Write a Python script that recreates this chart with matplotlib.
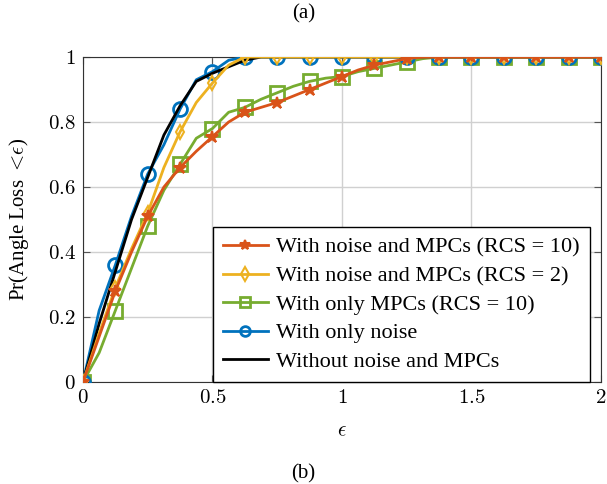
import matplotlib
matplotlib.use("Agg")
import matplotlib.pyplot as plt
import numpy as np

plt.rcParams['font.family'] = ['Liberation Serif', 'DejaVu Serif']
plt.rcParams['mathtext.fontset'] = 'cm'

# epsilon grid, step 0.0625 (markers every 0.125)
eps = np.arange(0, 2.0001, 0.0625)

noise_mpc_rcs10 = [0, 0.14, 0.28, 0.40, 0.51, 0.60, 0.66, 0.71, 0.755, 0.80, 0.83, 0.845,
                   0.86, 0.88, 0.90, 0.92, 0.94, 0.96, 0.975, 0.985, 0.995, 1.0, 1.0,
                   1.0, 1.0, 1.0, 1.0, 1.0, 1.0, 1.0, 1.0, 1.0, 1.0]
noise_mpc_rcs2 = [0, 0.15, 0.29, 0.41, 0.52, 0.66, 0.77, 0.86, 0.92, 0.975, 1.0, 1.0,
                  1.0, 1.0, 1.0, 1.0, 1.0, 1.0, 1.0, 1.0, 1.0, 1.0, 1.0,
                  1.0, 1.0, 1.0, 1.0, 1.0, 1.0, 1.0, 1.0, 1.0, 1.0]
only_mpc_rcs10 = [0, 0.09, 0.22, 0.35, 0.48, 0.59, 0.67, 0.75, 0.78, 0.83, 0.845, 0.87,
                  0.89, 0.91, 0.925, 0.935, 0.94, 0.955, 0.965, 0.975, 0.985, 0.995, 1.0,
                  1.0, 1.0, 1.0, 1.0, 1.0, 1.0, 1.0, 1.0, 1.0, 1.0]
only_noise = [0, 0.22, 0.36, 0.51, 0.64, 0.73, 0.84, 0.93, 0.955, 0.99, 1.0, 1.0,
              1.0, 1.0, 1.0, 1.0, 1.0, 1.0, 1.0, 1.0, 1.0, 1.0, 1.0,
              1.0, 1.0, 1.0, 1.0, 1.0, 1.0, 1.0, 1.0, 1.0, 1.0]
no_noise_mpc = [0, 0.18, 0.34, 0.50, 0.63, 0.76, 0.85, 0.925, 0.95, 0.97, 0.99, 1.0,
                1.0, 1.0, 1.0, 1.0, 1.0, 1.0, 1.0, 1.0, 1.0, 1.0, 1.0,
                1.0, 1.0, 1.0, 1.0, 1.0, 1.0, 1.0, 1.0, 1.0, 1.0]

labels = ["With noise and MPCs (RCS = 10)", "With noise and MPCs (RCS = 2)",
          "With only MPCs (RCS = 10)", "With only noise", "Without noise and MPCs"]
xticks = [0, 0.5, 1, 1.5, 2]
xticklabels = ['0', '0.5', '1', '1.5', '2']
yticks = [0, 0.2, 0.4, 0.6, 0.8, 1]
yticklabels = ['0', '0.2', '0.4', '0.6', '0.8', '1']

fig = plt.figure(figsize=(6.07, 4.84), dpi=100)
ax = fig.add_axes([0.1367, 0.2107, 0.8533, 0.6715])

lw = 2
ax.plot(eps, noise_mpc_rcs10, color='#D95319', lw=lw, marker='*', ms=9, mew=1.5,
        markevery=2, label=labels[0], zorder=5)
ax.plot(eps, noise_mpc_rcs2, color='#EDB120', lw=lw, marker='d', ms=7, mew=1.5,
        mfc='none', markevery=2, label=labels[1], zorder=4)
ax.plot(eps, only_mpc_rcs10, color='#77AC30', lw=lw, marker='s', ms=10, mew=2,
        mfc='none', markevery=2, label=labels[2], zorder=2)
ax.plot(eps, only_noise, color='#0072BD', lw=lw, marker='o', ms=10, mew=2,
        mfc='none', markevery=2, label=labels[3], zorder=3)
ax.plot(eps, no_noise_mpc, color='black', lw=lw, label=labels[4], zorder=3.5)

ax.set_xlim(0, 2)
ax.set_ylim(0, 1)
ax.set_xticks(xticks)
ax.set_xticklabels(['$' + t + '$' for t in xticklabels])
ax.set_yticks(yticks)
ax.set_yticklabels(['$' + t + '$' for t in yticklabels])
ax.tick_params(direction='in', top=True, right=True, labelsize=15, length=5,
               color='#555555', pad=5)
ax.grid(True, color='#d0d0d0', lw=1)
for s in ax.spines.values():
    s.set_color('#333333')

ax.set_xlabel(r'$\epsilon$', fontsize=15, labelpad=10)
ax.set_ylabel(r'Pr(Angle Loss $<\!\epsilon$)', fontsize=15, labelpad=12)

leg = ax.legend(loc='lower right', bbox_to_anchor=(0.979, 0.0), fontsize=16,
                fancybox=False, framealpha=1, edgecolor='black', borderaxespad=0,
                handlelength=2.0, labelspacing=0.36, borderpad=0.45, handletextpad=0.4)
leg.get_frame().set_linewidth(1)
for h in leg.legend_handles:
    h.set_markersize(7)

fig.text(0.5, 0.972, '(a)', ha='center', va='center', fontsize=15)
fig.text(0.5, 0.02, '(b)', ha='center', va='center', fontsize=15)

fig.savefig('out.png', dpi=100)
